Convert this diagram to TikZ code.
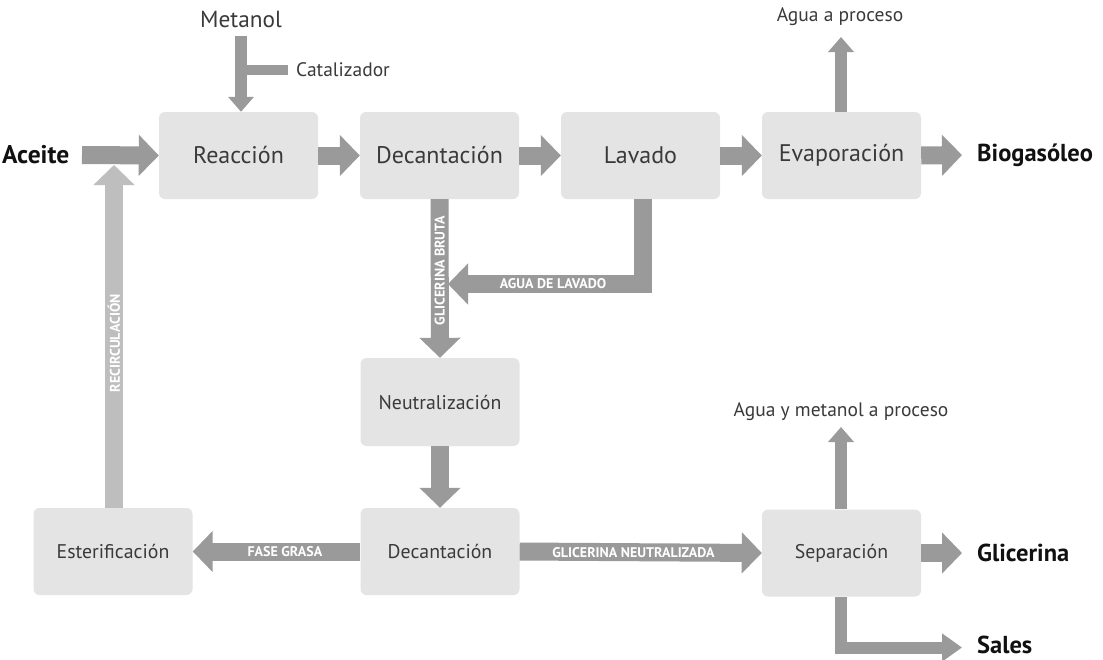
\documentclass[tikz,border=0pt]{standalone}
\usepackage{fontspec}
\setmainfont{PT Sans}
\usetikzlibrary{arrows.meta,calc}
\definecolor{boxfill}{HTML}{E4E4E4}
\definecolor{arr}{HTML}{9A9A9A}
\definecolor{arrlight}{HTML}{BEBEBE}
\definecolor{txt}{HTML}{3A3A3A}
\definecolor{outtxt}{HTML}{111111}
\begin{document}
\begin{tikzpicture}[x=1pt,y=-1pt,
  proc/.style={fill=boxfill, rounded corners=6pt, minimum width=159pt, minimum height=87pt, inner sep=0pt, text=txt, font=\fontsize{24}{27}\selectfont},
  procsm/.style={proc, font=\fontsize{19.8}{23}\selectfont},
  bigarrow/.style={draw=arr, line width=18pt, line join=miter, -{Triangle[width=40pt,length=20pt]}},
  thinarrow/.style={draw=arr, line width=12pt, line join=miter, -{Triangle[width=25pt,length=15pt]}},
  outlbl/.style={font=\fontsize{24.5}{27}\selectfont\bfseries, text=outtxt, inner sep=0pt},
  inlbl/.style={font=\fontsize{23.3}{26}\selectfont, text=txt, inner sep=0pt},
  smlbl/.style={font=\fontsize{19.5}{22}\selectfont, text=txt, inner sep=0pt},
  bandlbl/.style={font=\fontsize{14}{16}\selectfont\bfseries, text=white, inner sep=0pt}
]
\useasboundingbox (0,0) rectangle (1103,659);
\fill[white] (0,0) rectangle (1103,659);

% process boxes
\node[proc] (rea) at (238.5,155.5) {Reacción};
\node[proc] (dec) at (439.5,155.5) {Decantación};
\node[proc] (lav) at (640.5,155.5) {Lavado};
\node[proc] (eva) at (841.5,155.5) {Evaporación};
\node[procsm, minimum height=88pt] (neu) at (440,402) {Neutralización};
\node[procsm] (dec2) at (440,551.5) {Decantación};
\node[procsm] (est) at (113,551.5) {Esterificación};
\node[procsm] (sep) at (841.5,553) {Separación};

% outside labels
\node[outlbl, anchor=west, font=\fontsize{25.5}{28}\selectfont\bfseries] (ac) at (2,155) {Aceite};
\node[outlbl, anchor=west] (bio) at (977,155) {Biogasóleo};
\node[outlbl, anchor=west] (gli) at (977,553) {Glicerina};
\node[outlbl, anchor=west] (sal) at (977,644.5) {Sales};
\node[inlbl] (met) at (241,19) {Metanol};
\node[smlbl, anchor=west] (cat) at (296,70) {Catalizador};
\node[smlbl] (aguap) at (840,17) {Agua a proceso};
\node[smlbl] (aguam) at (841,412) {Agua y metanol a proceso};

% free ends
\coordinate (acs) at (82,155);
\coordinate (mets) at (241,36);
\coordinate (cats) at (288,70);
\coordinate (rectip) at (114,165);
\coordinate (biotip) at (962,155);
\coordinate (glitip) at (962,553);
\coordinate (saltip) at (962,647.5);
\coordinate (agptip) at (841,37);
\coordinate (agmtip) at (841,427);
\coordinate (lavtip) at (448,284);

% recirculation
\draw[bigarrow, draw=arrlight] (est.north -| rectip) -- node[bandlbl, rotate=90, pos=0.48] {RECIRCULACIÓN} (rectip);

% main line
\draw[bigarrow] (acs) -- (rea.west);
\draw[bigarrow] (rea.east) -- (dec.west);
\draw[bigarrow] (dec.east) -- (lav.west);
\draw[bigarrow] (lav.east) -- (eva.west);
\draw[bigarrow] (eva.east) -- (biotip);

% metanol + catalizador
\draw[draw=arr, line width=10pt] (cats) -- (cats -| mets);
\draw[thinarrow] (mets) -- (mets |- rea.north);

% evaporation up
\draw[thinarrow] (eva.north -| agptip) -- (agptip);

% glicerina bruta
\draw[bigarrow] (dec.south) -- node[bandlbl, rotate=90, pos=0.45] {GLICERINA BRUTA} (neu.north);
% agua de lavado
\draw[bigarrow] ([xshift=2pt]lav.south) |- node[bandlbl, pos=0.73] {AGUA DE LAVADO} (lavtip);

% neutralizacion -> decantacion
\draw[bigarrow] (neu.south) -- (dec2.north);
% fase grasa
\draw[bigarrow] (dec2.west) -- node[bandlbl, pos=0.45] {FASE GRASA} (est.east);
% glicerina neutralizada
\draw[bigarrow] (dec2.east) -- node[bandlbl, pos=0.47] {GLICERINA NEUTRALIZADA} (sep.west);

% separacion outputs
\draw[bigarrow] (sep.east) -- (glitip);
\draw[thinarrow] (sep.north -| agmtip) -- (agmtip);
\draw[thinarrow, -{Triangle[width=27pt,length=20pt]}] (sep.south -| agmtip) |- (saltip);
\end{tikzpicture}
\end{document}
